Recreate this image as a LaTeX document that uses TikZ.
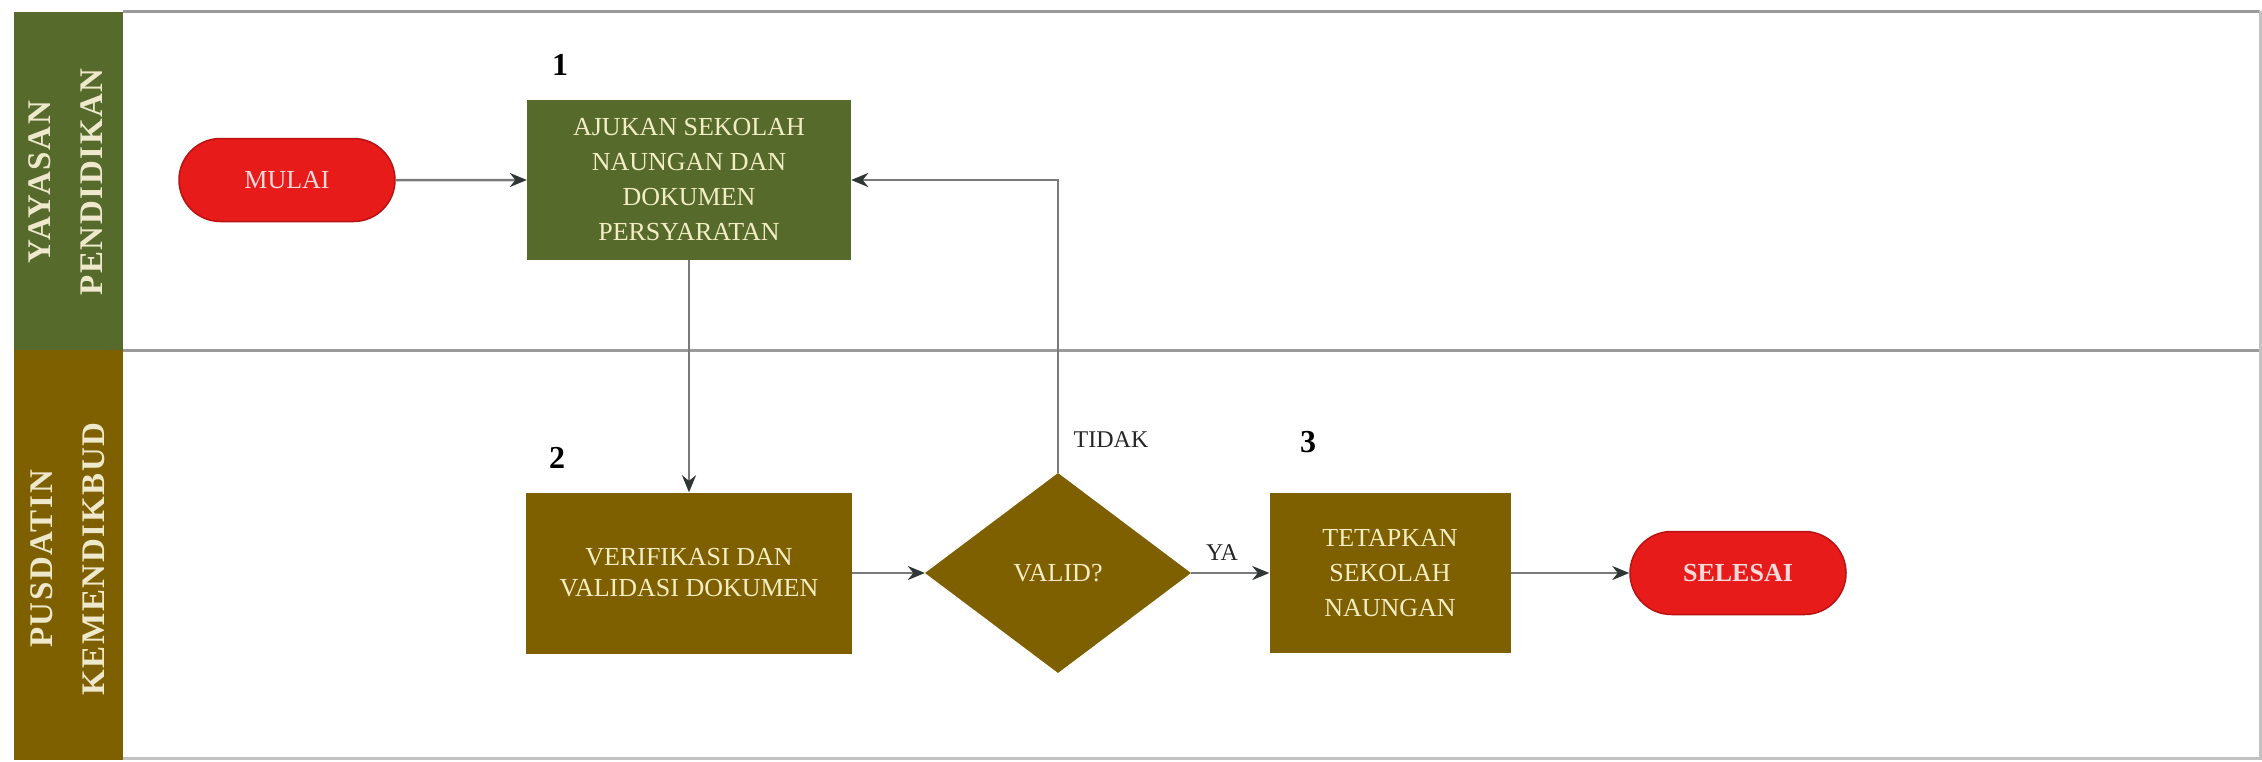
\documentclass[tikz,border=0pt]{standalone}
\usepackage{fontspec}
\setmainfont{Liberation Serif}
\usetikzlibrary{shapes.geometric,shapes.misc,arrows.meta}

\definecolor{lanegreen}{HTML}{566A2C}
\definecolor{lanebrown}{HTML}{7F6000}
\definecolor{pillred}{HTML}{E81B1B}
\definecolor{pilledge}{HTML}{B81212}
\definecolor{boxtext}{HTML}{F3EDC4}
\definecolor{pilltext}{HTML}{F8DADA}
\definecolor{bandtext}{HTML}{EEE9CC}
\definecolor{linegray}{HTML}{7A7A7A}
\definecolor{tipgray}{HTML}{2F3636}
\definecolor{framegray}{HTML}{9A9A9A}

\begin{document}
\begin{tikzpicture}[x=1pt,y=-1pt,
  proc/.style={rectangle, inner sep=0pt, text=boxtext, align=center,
    font=\fontsize{26}{35}\selectfont},
  pill/.style={rounded rectangle, rounded rectangle arc length=180,
    fill=pillred, draw=pilledge, line width=1.5pt, inner sep=0pt,
    minimum width=216pt, minimum height=83pt, text=pilltext,
    font=\fontsize{26}{30}\selectfont},
  decision/.style={diamond, fill=lanebrown, inner sep=0pt,
    minimum width=266pt, minimum height=200pt, text=boxtext,
    font=\fontsize{26}{30}\selectfont},
  lanelabel/.style={rotate=90, text=bandtext, align=center,
    font=\fontsize{33}{52}\selectfont\bfseries\addfontfeature{LetterSpace=5}},
  stepnum/.style={font=\fontsize{32}{32}\selectfont\bfseries, text=black},
  branch/.style={font=\fontsize{24}{24}\selectfont, text=black!85},
  conn/.style={draw=linegray, line width=2.5pt,
    -{Stealth[length=17pt,width=14pt,color=tipgray]}},
  frameline/.style={draw=framegray, line width=3pt}
]
\useasboundingbox (0,0) rectangle (2262,761);
\fill[white] (0,0) rectangle (2262,761);

% swimlane header bands
\fill[lanegreen] (14,12) rectangle (123,350);
\fill[lanebrown] (14,350) rectangle (123,760);

% lane borders
\draw[frameline] (123,11) -- (2260,11);
\draw[frameline] (123,350) -- (2260,350);
\draw[frameline, draw=framegray!60] (123,758) -- (2260,758) -- (2260,11);

% lane titles
\node[lanelabel] (lane1) at (66,182) {YAYASAN\\PENDIDIKAN};
\node[lanelabel] (lane2) at (68,559) {PUSDATIN\\KEMENDIKBUD};

% process nodes
\node[pill] (mulai) at (287,180) {MULAI};
\node[proc, fill=lanegreen, minimum width=324pt, minimum height=160pt]
  (box1) at (689,180) {AJUKAN SEKOLAH\\NAUNGAN DAN\\DOKUMEN\\PERSYARATAN};
\node[proc, fill=lanebrown, minimum width=326pt, minimum height=161pt,
  font=\fontsize{26}{31}\selectfont]
  (box2) at (689,573) {VERIFIKASI DAN\\VALIDASI DOKUMEN};
\node[decision] (valid) at (1058,573) {VALID?};
\node[proc, fill=lanebrown, minimum width=241pt, minimum height=160pt]
  (box3) at (1390,573) {TETAPKAN\\SEKOLAH\\NAUNGAN};
\node[pill, font=\fontsize{26}{30}\selectfont\bfseries] (selesai) at (1738,573) {SELESAI};

% step numbers
\node[stepnum] (n1) at (560,65) {1};
\node[stepnum] (n2) at (557,458) {2};
\node[stepnum] (n3) at (1308,442) {3};

% connectors
\draw[conn] (mulai) -- (box1);
\draw[conn] (box1) -- (box2);
\draw[conn] (box2) -- (valid);
\draw[conn] (valid.north) |- (box1.east);
\draw[conn] (valid) -- (box3);
\draw[conn] (box3) -- (selesai);

% branch labels
\node[branch] (tidak) at (1111,440) {TIDAK};
\node[branch] (ya) at (1222,553) {YA};
\end{tikzpicture}
\end{document}
